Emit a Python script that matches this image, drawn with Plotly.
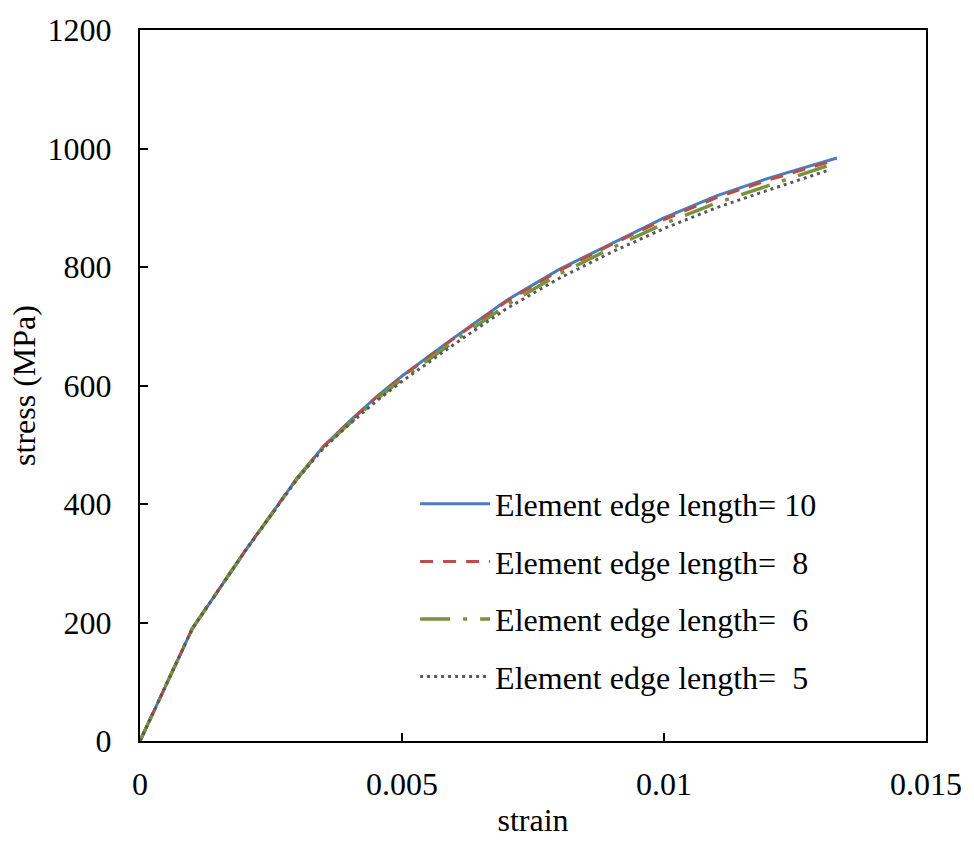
import plotly.graph_objects as go

# Stress-strain response for different mesh sizes
strain_a = [0, 0.001, 0.002, 0.003, 0.0035, 0.004, 0.0045, 0.005, 0.006, 0.007, 0.008, 0.009, 0.010, 0.011, 0.012, 0.0133]
stress_10 = [0, 190, 320, 444, 497, 540, 580, 616, 681, 744, 796, 840, 883, 920, 950, 984]
stress_8 = [0, 190, 320, 444, 497, 539, 579, 615, 680, 742, 794, 838, 880, 917, 947, 981]

strain_b = [0, 0.001, 0.002, 0.003, 0.0035, 0.004, 0.0045, 0.005, 0.006, 0.007, 0.008, 0.009, 0.010, 0.011, 0.012, 0.01316]
stress_6 = [0, 190, 320, 443, 496, 537, 576, 611, 675, 736, 788, 832, 873, 908, 938, 972]
stress_5 = [0, 190, 320, 442, 494, 535, 573, 607, 670, 730, 781, 825, 865, 900, 930, 964]

labels = ["Element edge length= 10", "Element edge length=  8",
          "Element edge length=  6", "Element edge length=  5"]

FONT = "Times New Roman, Liberation Serif, serif"
FS = 32

series = [
    (strain_a, stress_10, labels[0], "#4A7EBB", "solid", 3),
    (strain_a, stress_8, labels[1], "#BE4B48", "13px,10px", 3),
    (strain_b, stress_6, labels[2], "#77933C", "30px,13px,4px,13px", 3.5),
    (strain_b, stress_5, labels[3], "#595959", "3px,4px", 3),
]

fig = go.Figure()
for i, (x, y, name, color, dash, w) in enumerate(series):
    fig.add_trace(go.Scatter(
        x=x, y=y, mode="lines", name=name, legendgroup=str(i),
        line=dict(color=color, dash=dash, width=w),
    ))

axis_common = dict(
    showgrid=False, zeroline=False, showline=True, mirror=True,
    linecolor="black", linewidth=2, ticks="inside", ticklen=8,
    tickwidth=1.5, tickcolor="black",
    tickfont=dict(family=FONT, size=FS, color="black"),
)

fig.update_xaxes(
    range=[0, 0.015], tickvals=[0, 0.005, 0.01, 0.015],
    ticktext=["0", "0.005", "0.01", "0.015"], ticklabelstandoff=14,
    title=dict(text="strain", font=dict(family=FONT, size=FS, color="black"), standoff=7),
    **axis_common,
)
fig.update_yaxes(
    range=[0, 1200], tickvals=[0, 200, 400, 600, 800, 1000, 1200],
    ticklabelstandoff=20,
    title=dict(text="stress (MPa)", font=dict(family=FONT, size=FS, color="black"), standoff=2),
    **axis_common,
)

fig.update_layout(
    width=974, height=844,
    margin=dict(l=140, r=39, t=25, b=97),
    paper_bgcolor="white", plot_bgcolor="white",
    showlegend=True,
    legend=dict(
        x=0.35, y=0.372, xanchor="left", yanchor="top",
        bgcolor="rgba(0,0,0,0)", itemwidth=70, tracegroupgap=13,
        font=dict(family=FONT, size=FS, color="black"),
    ),
)

fig.write_html("out.html")
